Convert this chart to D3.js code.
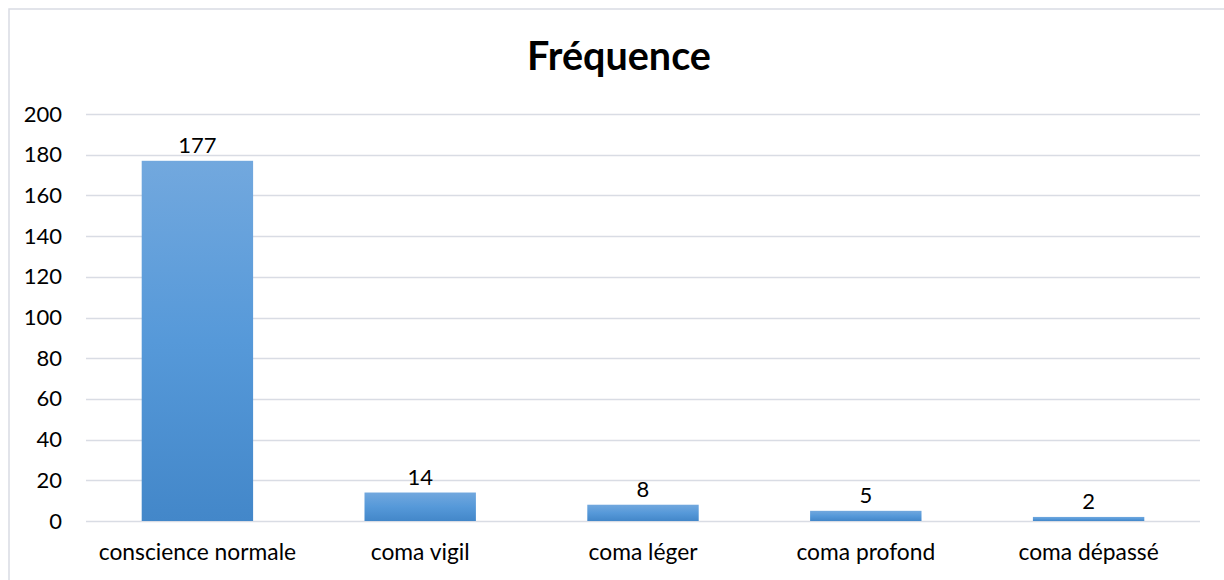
<!DOCTYPE html>
<html>
<head>
<meta charset="utf-8">
<script src="https://cdn.jsdelivr.net/npm/d3@7"></script>
<style>
  html, body { margin: 0; padding: 0; background: #fff; }
  svg { display: block; }
  text { font-family: Lato, "Open Sans", sans-serif; fill: #000; }
</style>
</head>
<body>
<svg id="chart" width="1224" height="580"></svg>
<script>
// Consciousness state counts
const categories = ["conscience normale", "coma vigil", "coma léger", "coma profond", "coma dépassé"];
const values = [177, 14, 8, 5, 2];
const yTicks = [0, 20, 40, 60, 80, 100, 120, 140, 160, 180, 200];
const title = "Fréquence";

const W = 1224, H = 580;
const margin = { left: 86, right: 24, top: 114, bottom: 59 };
const labelSize = 22;

const svg = d3.select("#chart");

// outer frame
svg.append("rect")
  .attr("x", 9).attr("y", 9)
  .attr("width", W).attr("height", H)
  .attr("fill", "#fff")
  .attr("stroke", "#d9dce4").attr("stroke-width", 1.5);

const x = d3.scaleBand()
  .domain(categories)
  .range([margin.left, W - margin.right])
  .paddingInner(0.5).paddingOuter(0.25);

const y = d3.scaleLinear()
  .domain([0, 200])
  .range([H - margin.bottom, margin.top]);

// bar gradient, lighter at the top
const defs = svg.append("defs");
const grad = defs.append("linearGradient")
  .attr("id", "barGrad")
  .attr("x1", 0).attr("y1", 0).attr("x2", 0).attr("y2", 1);
grad.append("stop").attr("offset", "0%").attr("stop-color", "#72a8de");
grad.append("stop").attr("offset", "50%").attr("stop-color", "#5699d9");
grad.append("stop").attr("offset", "100%").attr("stop-color", "#4387c9");

// gridlines
svg.append("g")
  .selectAll("line")
  .data(yTicks)
  .join("line")
  .attr("x1", margin.left).attr("x2", W - margin.right)
  .attr("y1", d => Math.round(y(d)) + 0.5).attr("y2", d => Math.round(y(d)) + 0.5)
  .attr("stroke", "#d9dce4").attr("stroke-width", 1.5);

// y axis labels
const yAxis = d3.axisLeft(y).tickValues(yTicks).tickSize(0).tickPadding(0);
const gy = svg.append("g")
  .attr("transform", `translate(${margin.left - 24},0)`)
  .call(yAxis);
gy.select(".domain").remove();
gy.selectAll("text")
  .attr("font-size", labelSize)
  .attr("font-family", "Lato, 'Open Sans', sans-serif")
  .attr("fill", "#000");

// bars
svg.append("g")
  .selectAll("rect")
  .data(values)
  .join("rect")
  .attr("x", (d, i) => x(categories[i]))
  .attr("y", d => y(d))
  .attr("width", x.bandwidth())
  .attr("height", d => y(0) - y(d))
  .attr("fill", "url(#barGrad)");

// value labels
svg.append("g")
  .selectAll("text")
  .data(values)
  .join("text")
  .attr("x", (d, i) => x(categories[i]) + x.bandwidth() / 2)
  .attr("y", d => y(d) - 8)
  .attr("text-anchor", "middle")
  .attr("font-size", labelSize)
  .text(d => d);

// x axis labels
const xAxis = d3.axisBottom(x).tickSize(0).tickPadding(0);
const gx = svg.append("g")
  .attr("transform", `translate(0,${y(0) + 23})`)
  .call(xAxis);
gx.select(".domain").remove();
gx.selectAll("text")
  .attr("font-size", 22.8)
  .attr("font-family", "Lato, 'Open Sans', sans-serif")
  .attr("fill", "#000");

// title
svg.append("text")
  .attr("x", 619).attr("y", 70)
  .attr("text-anchor", "middle")
  .attr("font-size", 39.5)
  .attr("font-weight", "bold")
  .text(title);
</script>
</body>
</html>
